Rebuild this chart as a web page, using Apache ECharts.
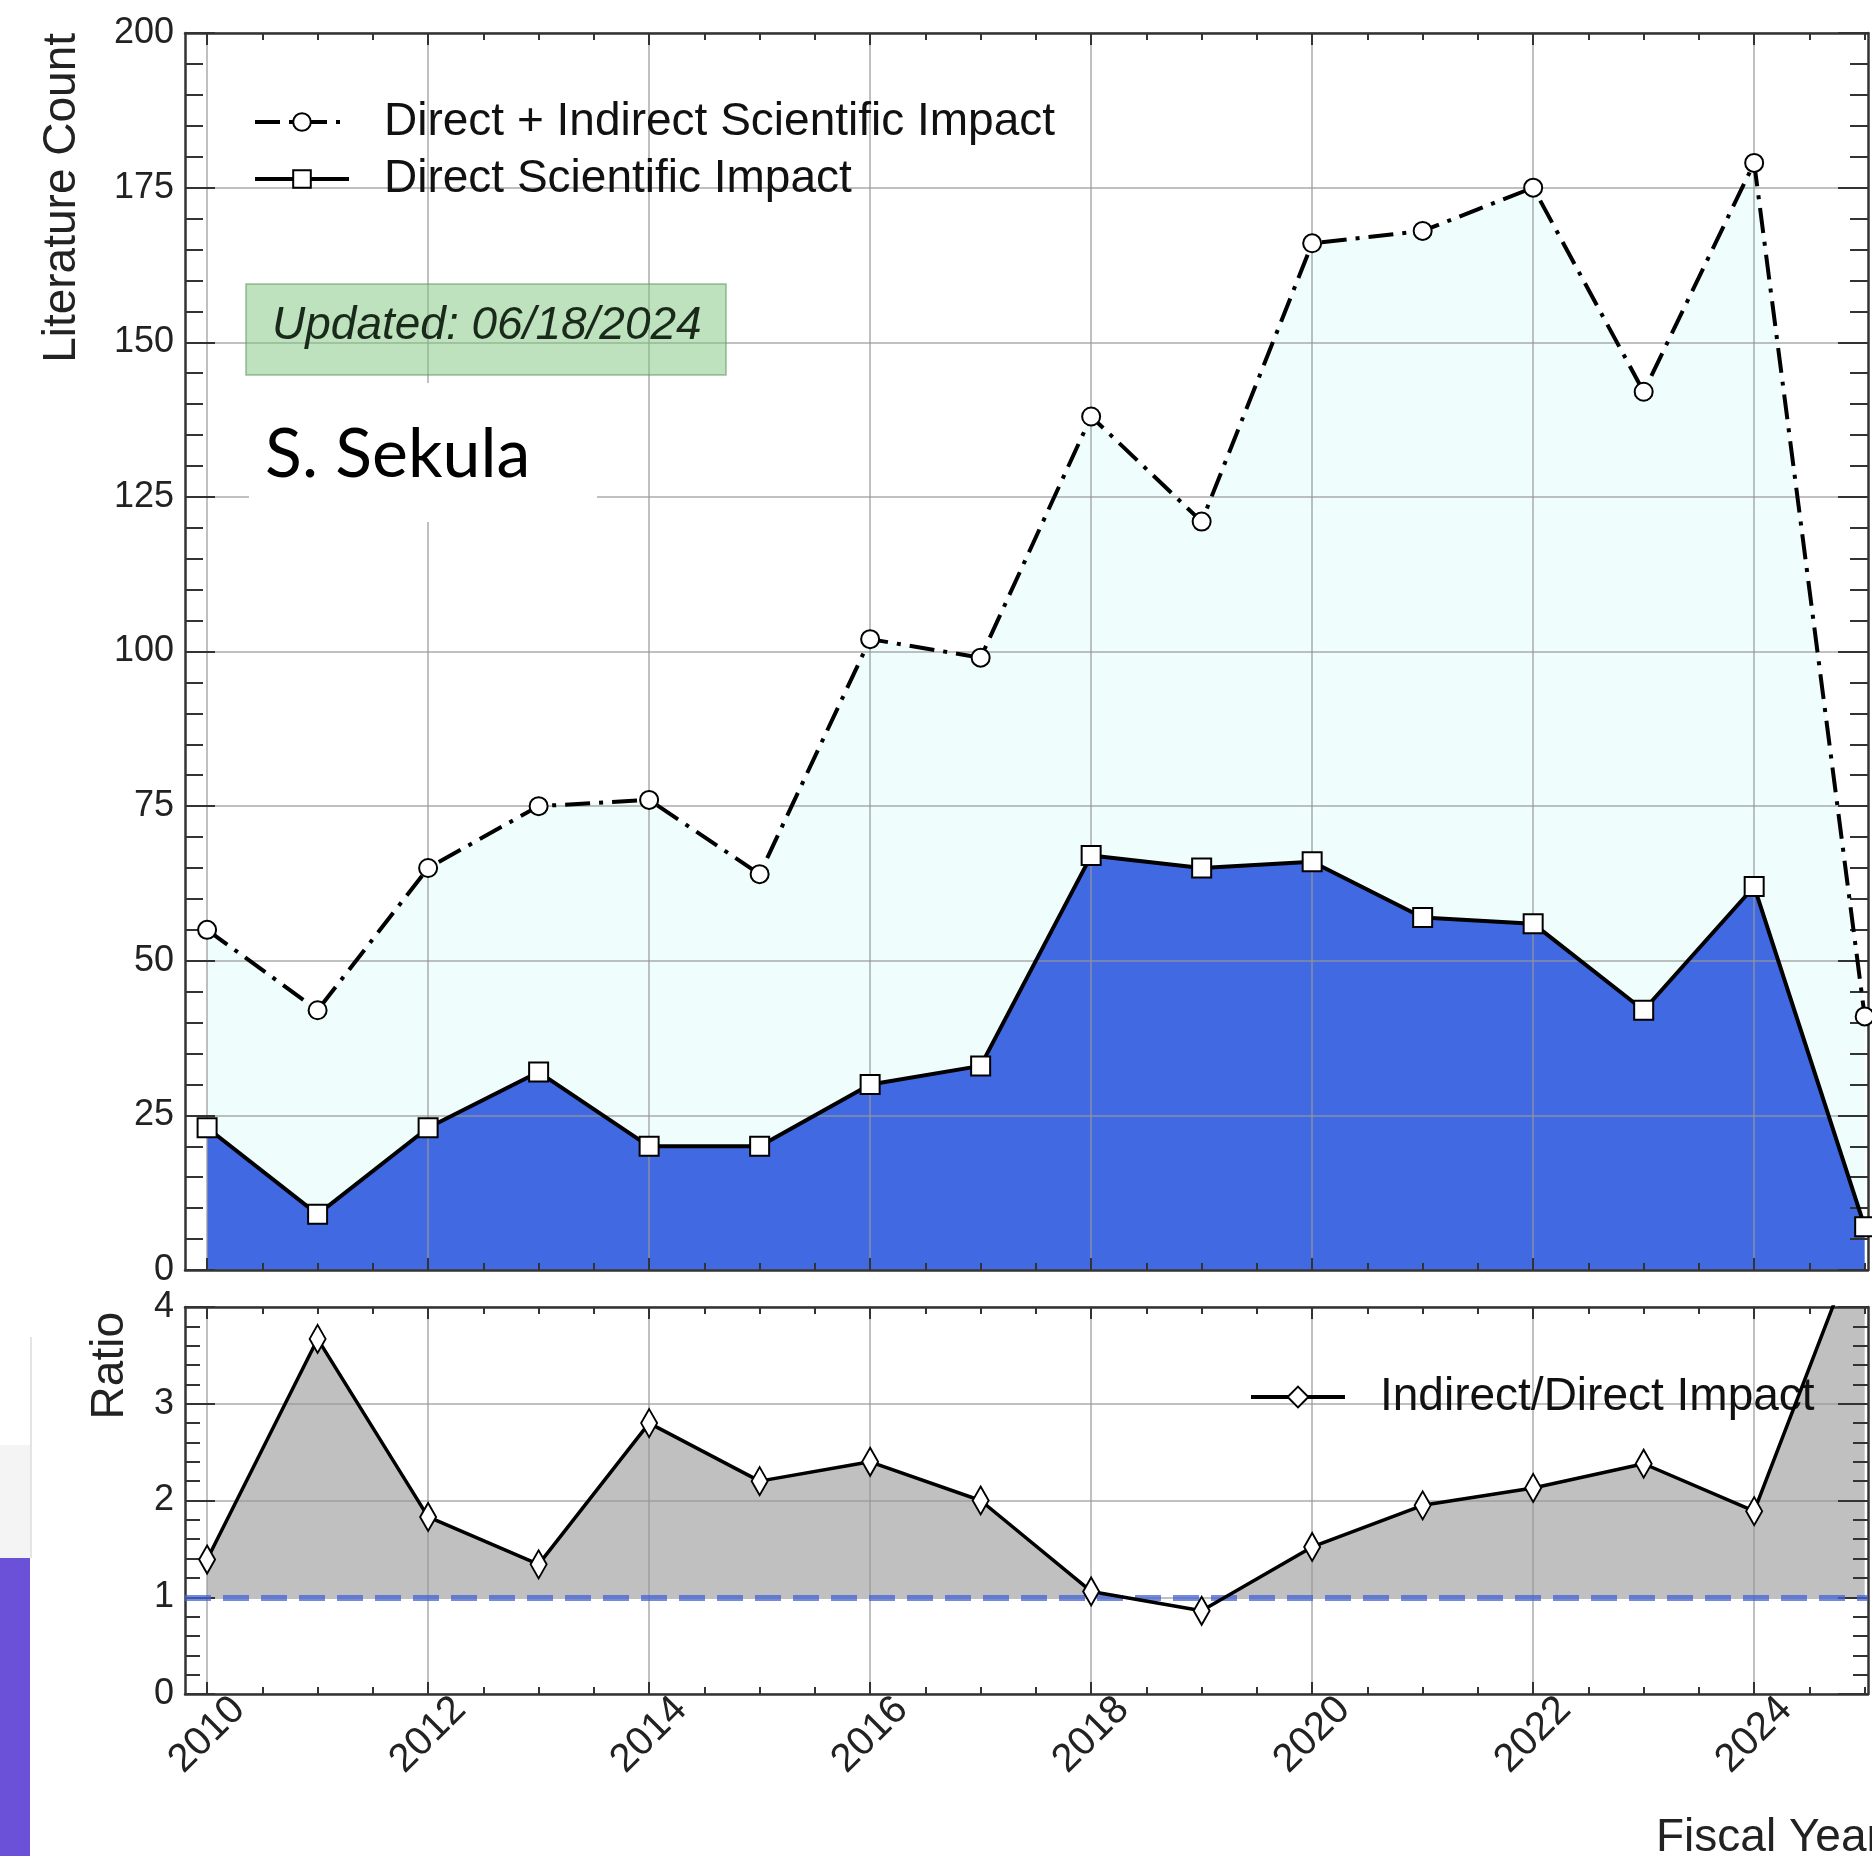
<!DOCTYPE html>
<html>
<head>
<meta charset="utf-8">
<script src="https://cdn.jsdelivr.net/npm/echarts@6/dist/echarts.min.js"></script>
<style>html,body{margin:0;padding:0;background:#fff}#chart{width:1872px;height:1856px}</style>
</head>
<body>
<div id="chart"></div>
<script>
// ---- data ----
const years = [2010,2011,2012,2013,2014,2015,2016,2017,2018,2019,2020,2021,2022,2023,2024,2025];
const directPlusIndirect = [55,42,65,75,76,64,102,99,138,121,166,168,175,142,179,41];
const direct = [23,9,23,32,20,20,30,33,67,65,66,57,56,42,62,7];
const ratio = [1.39,3.67,1.83,1.34,2.8,2.2,2.4,2.0,1.06,0.86,1.52,1.95,2.13,2.38,1.89,4.86];
const majorYearTicks = [2010,2012,2014,2016,2018,2020,2022,2024];
const minorYearTicks = [2010.5,2011,2011.5,2012.5,2013,2013.5,2014.5,2015,2015.5,2016.5,2017,2017.5,
                        2018.5,2019,2019.5,2020.5,2021,2021.5,2022.5,2023,2023.5,2024.5,2025];
const NAME_TOTAL = 'Direct + Indirect Scientific Impact';
const NAME_DIRECT = 'Direct Scientific Impact';
const NAME_RATIO = 'Indirect/Direct Impact';

const X_MIN = 2009.8, X_MAX = 2025.03;
const FONT = '"Liberation Sans", Arial, Helvetica, sans-serif';
const AXIS_COLOR = '#333';
const GRID_LINE = 'rgba(150,150,150,0.6)';

const totalData = years.map((y, i) => [y, directPlusIndirect[i]]);
const directData = years.map((y, i) => [y, direct[i]]);
const ratioData = years.map((y, i) => [y, ratio[i]]);

function xAxisSet(gridIndex, withLabels) {
  const base = {gridIndex, type: 'value', min: X_MIN, max: X_MAX, z: 3, splitLine: {show: false},
                axisLabel: {show: false}, axisLine: {show: false, onZero: false}};
  const majorBottom = Object.assign({}, base, {
    position: 'bottom',
    axisLine: {show: true, onZero: false, lineStyle: {color: AXIS_COLOR, width: 2.5}},
    axisTick: {show: true, inside: true, length: 12, customValues: majorYearTicks, lineStyle: {color: AXIS_COLOR, width: 2}},
    splitLine: {show: true, lineStyle: {color: GRID_LINE, width: 2}},
    axisLabel: withLabels ? {show: true, customValues: majorYearTicks, rotate: 45, align: 'center', verticalAlign: 'middle',
                margin: 41, fontSize: 40, color: '#222', fontFamily: FONT, formatter: v => String(Math.round(v))} : {show: false}
  });
  const minorBottom = Object.assign({}, base, {
    position: 'bottom',
    axisTick: {show: true, inside: true, length: 7, customValues: minorYearTicks, lineStyle: {color: AXIS_COLOR, width: 2}}
  });
  const majorTop = Object.assign({}, base, {
    position: 'top',
    axisLine: {show: true, onZero: false, lineStyle: {color: AXIS_COLOR, width: 2.5}},
    axisTick: {show: true, inside: true, length: 12, customValues: majorYearTicks, lineStyle: {color: AXIS_COLOR, width: 2}}
  });
  const minorTop = Object.assign({}, base, {
    position: 'top',
    axisTick: {show: true, inside: true, length: 7, customValues: minorYearTicks, lineStyle: {color: AXIS_COLOR, width: 2}}
  });
  return [majorBottom, minorBottom, majorTop, minorTop];
}

function yAxisPair(gridIndex, max, interval, majorLen, minorLen) {
  const common = {gridIndex, type: 'value', min: 0, max, interval, z: 3,
    axisLine: {show: true, onZero: false, lineStyle: {color: AXIS_COLOR, width: 2.5}},
    axisTick: {show: true, inside: true, length: majorLen, lineStyle: {color: AXIS_COLOR, width: 2}},
    minorTick: {show: true, splitNumber: 5, length: minorLen, lineStyle: {color: AXIS_COLOR, width: 2}}};
  const left = Object.assign({}, common, {
    position: 'left',
    axisLabel: {show: true, fontSize: 36, color: '#222', fontFamily: FONT, margin: 11},
    splitLine: {show: true, lineStyle: {color: GRID_LINE, width: 2}}
  });
  const right = Object.assign({}, common, {
    position: 'right', axisLabel: {show: false}, splitLine: {show: false}
  });
  return [left, right];
}

const legendCommon = {
  orient: 'horizontal', padding: 0, itemWidth: 94, itemHeight: 22, itemGap: 0, selectedMode: false,
  lineStyle: {width: 4},
  itemStyle: {borderWidth: 2, borderColor: '#000', color: '#fff'},
  textStyle: {fontSize: 46, color: '#111', fontFamily: FONT, padding: [0, 0, 0, 30], lineHeight: 46}
};

const chart = echarts.init(document.getElementById('chart'), null, {renderer: 'canvas'});
chart.setOption({
  animation: false,
  backgroundColor: '#fff',
  textStyle: {fontFamily: FONT},
  grid: [
    {left: 185, top: 33, width: 1683, height: 1237, outerBoundsMode: 'none'},
    {left: 185, top: 1307, width: 1683, height: 387, outerBoundsMode: 'none'}
  ],
  xAxis: [].concat(xAxisSet(0, false), xAxisSet(1, true)),
  yAxis: [].concat(yAxisPair(0, 200, 25, 30, 18), yAxisPair(1, 4, 1, 30, 15)),
  legend: [
    Object.assign({}, legendCommon, {left: 253, top: 99, data: [NAME_TOTAL]}),
    Object.assign({}, legendCommon, {left: 253, top: 156, data: [NAME_DIRECT]}),
    Object.assign({}, legendCommon, {left: 1249, top: 1374, itemHeight: 26, data: [NAME_RATIO]})
  ],
  visualMap: [{
    show: false, type: 'piecewise', seriesIndex: 2, dimension: 1,
    pieces: [{gt: 1, lte: 100, color: '#c0c0c0'}, {gt: -100, lte: 1, color: 'rgba(255,255,255,0)'}]
  }],
  series: [
    {type: 'line', name: '_fillTotal', xAxisIndex: 0, yAxisIndex: 0, data: totalData, symbol: 'none', silent: true,
     lineStyle: {width: 0, opacity: 0}, areaStyle: {color: '#effdfd', opacity: 1}, z: 1},
    {type: 'line', name: '_fillDirect', xAxisIndex: 0, yAxisIndex: 0, data: directData, symbol: 'none', silent: true,
     lineStyle: {width: 0, opacity: 0}, areaStyle: {color: '#4169e1', opacity: 1}, z: 1},
    {type: 'line', name: '_fillRatio', xAxisIndex: 4, yAxisIndex: 2, data: ratioData, symbol: 'none', silent: true,
     lineStyle: {width: 0, opacity: 0}, areaStyle: {origin: 1, opacity: 1}, z: 1},
    {type: 'line', name: NAME_TOTAL, xAxisIndex: 0, yAxisIndex: 0, data: totalData, z: 6,
     symbol: 'circle', symbolSize: 18, showAllSymbol: true,
     itemStyle: {color: '#fff', borderColor: '#000', borderWidth: 2},
     lineStyle: {color: '#000', width: 4, type: [25, 9, 4, 9]}},
    {type: 'line', name: NAME_DIRECT, xAxisIndex: 0, yAxisIndex: 0, data: directData, z: 6,
     symbol: 'rect', symbolSize: 19, showAllSymbol: true,
     itemStyle: {color: '#fff', borderColor: '#000', borderWidth: 2},
     lineStyle: {color: '#000', width: 4}},
    {type: 'line', name: NAME_RATIO, xAxisIndex: 4, yAxisIndex: 2, data: ratioData, z: 6,
     symbol: 'diamond', symbolSize: [16, 28], showAllSymbol: true,
     itemStyle: {color: '#fff', borderColor: '#000', borderWidth: 2},
     lineStyle: {color: '#000', width: 3.5},
     markLine: {silent: true, symbol: 'none', z: 4, label: {show: false},
       lineStyle: {color: 'rgba(70,100,210,0.75)', width: 6, type: [26, 12]},
       data: [{yAxis: 1}]}}
  ],
  graphic: [
    {type: 'rect', z: 10, shape: {x: 246, y: 284, width: 480, height: 91},
     style: {fill: 'rgba(125,195,125,0.5)', stroke: 'rgba(90,150,90,0.6)', lineWidth: 1.5}},
    {type: 'text', z: 11, x: 272, y: 326,
     style: {text: 'Updated: 06/18/2024', fontSize: 46, fontStyle: 'italic', fontFamily: FONT, fill: '#1a2a1a', align: 'left', verticalAlign: 'middle'}},
    {type: 'rect', z: 10, shape: {x: 249, y: 383, width: 348, height: 139}, style: {fill: '#fff'}},
    {type: 'text', z: 11, x: 265, y: 455,
     style: {text: 'S. Sekula', fontSize: 68, fontFamily: 'Lato, "Open Sans", sans-serif', fill: '#000', align: 'left', verticalAlign: 'middle'}},
    {type: 'text', x: 62, y: 33, rotation: Math.PI / 2,
     style: {text: 'Literature Count', fontSize: 46, fontFamily: FONT, fill: '#222', align: 'right', verticalAlign: 'middle'}},
    {type: 'text', x: 110, y: 1312, rotation: Math.PI / 2,
     style: {text: 'Ratio', fontSize: 46, fontFamily: FONT, fill: '#222', align: 'right', verticalAlign: 'middle'}},
    {type: 'text', x: 1656, y: 1838,
     style: {text: 'Fiscal Year', fontSize: 46, fontFamily: FONT, fill: '#222', align: 'left', verticalAlign: 'middle'}},
    {type: 'rect', shape: {x: 0, y: 1445, width: 30, height: 113}, style: {fill: '#f4f4f4'}},
    {type: 'rect', shape: {x: 0, y: 1558, width: 30, height: 298}, style: {fill: '#6b50d8'}},
    {type: 'line', shape: {x1: 31, y1: 1337, x2: 31, y2: 1558}, style: {stroke: '#e4e4e4', lineWidth: 2}}
  ]
});
</script>
</body>
</html>
